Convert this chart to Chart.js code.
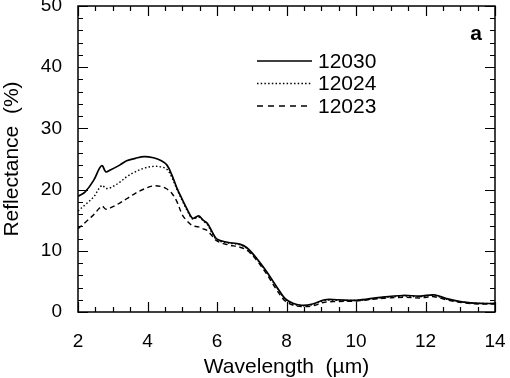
<!DOCTYPE html>
<html>
<head>
<meta charset="utf-8">
<script src="https://cdn.jsdelivr.net/npm/chart.js@4/dist/chart.umd.min.js"></script>
<style>
  html, body { margin: 0; padding: 0; background: #fff; }
  #wrap { width: 510px; height: 378px; }
</style>
</head>
<body>
<div id="wrap"><canvas id="c" width="510" height="378"></canvas></div>
<script>
// Wavelength (µm) sample positions shared by all three spectra
const wavelength = [2.0, 2.2, 2.45, 2.62, 2.7, 2.8, 2.93, 3.2, 3.4, 3.65, 3.9, 4.17, 4.4, 4.56, 4.7, 4.85, 5.0, 5.15, 5.3, 5.47, 5.6, 5.72, 5.85, 6.0, 6.3, 6.65, 6.86, 7.15, 7.44, 7.72, 7.96, 8.2, 8.45, 8.75, 9.1, 9.45, 10.0, 10.7, 11.35, 11.85, 12.25, 12.6, 13.1, 13.6, 14.0];

// Reflectance (%) per sample
const refl12030 = [18.9, 19.6, 21.5, 23.5, 23.9, 22.9, 23.2, 24.0, 24.7, 25.1, 25.4, 25.2, 24.7, 24.0, 22.4, 20.2, 18.4, 16.7, 15.3, 15.7, 15.0, 14.5, 13.2, 11.9, 11.4, 11.1, 10.5, 8.7, 6.5, 4.1, 2.2, 1.4, 1.1, 1.3, 2.0, 2.0, 1.9, 2.4, 2.7, 2.6, 2.8, 2.2, 1.6, 1.4, 1.4];
const refl12024 = [16.5, 17.5, 18.8, 20.3, 20.7, 20.2, 20.3, 21.2, 22.1, 22.9, 23.5, 23.8, 23.7, 23.3, 22.0, 20.0, 18.2, 16.5, 15.2, 15.5, 14.9, 14.3, 13.0, 11.8, 11.3, 11.0, 10.4, 8.6, 6.4, 4.0, 2.1, 1.3, 1.0, 1.2, 1.9, 1.9, 1.9, 2.3, 2.6, 2.5, 2.7, 2.1, 1.6, 1.4, 1.4];
const refl12023 = [13.6, 14.6, 15.9, 17.0, 17.3, 16.8, 17.0, 17.8, 18.5, 19.4, 20.1, 20.6, 20.5, 20.1, 19.4, 18.0, 15.9, 14.8, 14.1, 13.9, 13.6, 13.3, 12.5, 11.6, 11.0, 10.6, 10.1, 8.4, 6.1, 3.6, 1.8, 1.1, 0.9, 1.0, 1.6, 1.7, 1.8, 2.2, 2.4, 2.3, 2.5, 2.0, 1.5, 1.3, 1.3];

const seriesLabels = ['12030', '12024', '12023'];
const xTicks = [2, 4, 6, 8, 10, 12, 14];
const yTicks = [0, 10, 20, 30, 40, 50];
const panelLabel = 'a';

const FONT = "'Liberation Sans', Arial, Helvetica, sans-serif";
Chart.defaults.font.family = FONT;
Chart.defaults.color = '#000';

const toPts = arr => wavelength.map((w, i) => ({ x: w, y: arr[i] }));

const framePlugin = {
  id: 'frameTicks',
  afterDraw(chart) {
    const { ctx, chartArea: { left, right, top, bottom }, scales: { x, y } } = chart;
    ctx.save();
    ctx.strokeStyle = '#000';
    ctx.lineWidth = 1.5;
    ctx.strokeRect(left, top, right - left, bottom - top);
    ctx.lineWidth = 1.2;
    ctx.beginPath();
    for (let v = x.min; v <= x.max + 1e-9; v += 0.5) {
      const p = Math.round(x.getPixelForValue(v)) + 0.5;
      const len = (Math.abs(v % 2) < 1e-9) ? 10 : 5;
      ctx.moveTo(p, bottom); ctx.lineTo(p, bottom - len);
      ctx.moveTo(p, top); ctx.lineTo(p, top + len);
    }
    for (let v = y.min; v <= y.max + 1e-9; v += 2) {
      const p = Math.round(y.getPixelForValue(v)) + 0.5;
      const len = (Math.abs(v % 10) < 1e-9) ? 10 : 5;
      ctx.moveTo(left, p); ctx.lineTo(left + len, p);
      ctx.moveTo(right, p); ctx.lineTo(right - len, p);
    }
    ctx.stroke();

    // legend
    const ys = [61, 83.5, 106];
    chart.data.datasets.forEach((ds, i) => {
      ctx.beginPath();
      ctx.lineWidth = ds.borderWidth;
      ctx.setLineDash(i === 2 ? [6, 5] : (ds.borderDash || []));
      ctx.moveTo(257, ys[i]); ctx.lineTo(312, ys[i]);
      ctx.stroke();
      ctx.setLineDash([]);
      ctx.fillStyle = '#000';
      ctx.font = '21px ' + FONT;
      ctx.textBaseline = 'middle';
      ctx.textAlign = 'left';
      ctx.fillText(ds.label, 318, ys[i] + 1);
    });
    // panel label
    ctx.font = 'bold 21px ' + FONT;
    ctx.textAlign = 'center';
    ctx.fillText(panelLabel, 476, 34);
    ctx.restore();
  }
};

new Chart(document.getElementById('c'), {
  type: 'line',
  data: {
    datasets: [
      { label: seriesLabels[0], data: toPts(refl12030), borderColor: '#000', borderWidth: 1.7, pointRadius: 0, tension: 0.35, fill: false },
      { label: seriesLabels[1], data: toPts(refl12024), borderColor: '#000', borderWidth: 1.4, borderDash: [1.5, 2.2], pointRadius: 0, tension: 0.35, fill: false },
      { label: seriesLabels[2], data: toPts(refl12023), borderColor: '#000', borderWidth: 1.4, borderDash: [5, 3.5], pointRadius: 0, tension: 0.35, fill: false }
    ]
  },
  options: {
    responsive: false,
    animation: false,
    layout: { padding: { left: 0, right: 15, top: 6, bottom: 0 } },
    plugins: { legend: { display: false }, tooltip: { enabled: false } },
    scales: {
      x: {
        type: 'linear', min: 2, max: 14,
        afterBuildTicks: s => { s.ticks = xTicks.map(v => ({ value: v })); },
        afterFit: s => { s.height = 66; s.paddingLeft = 0; s.paddingRight = 0; },
        grid: { display: false, drawTicks: false },
        border: { display: false },
        ticks: { font: { size: 19 }, padding: 18, maxRotation: 0 },
        title: { display: true, text: 'Wavelength  (µm)', font: { size: 21 }, padding: { top: 0, bottom: -2 } }
      },
      y: {
        type: 'linear', min: 0, max: 50,
        afterBuildTicks: s => { s.ticks = yTicks.map(v => ({ value: v })); },
        afterFit: s => { s.width = 78; s.paddingTop = 0; s.paddingBottom = 0; },
        grid: { display: false, drawTicks: false },
        border: { display: false },
        ticks: { font: { size: 19 }, padding: 16 },
        title: { display: true, text: 'Reflectance  (%)', font: { size: 21 }, padding: { top: 0, bottom: 0 } }
      }
    }
  },
  plugins: [framePlugin]
});
</script>
</body>
</html>
